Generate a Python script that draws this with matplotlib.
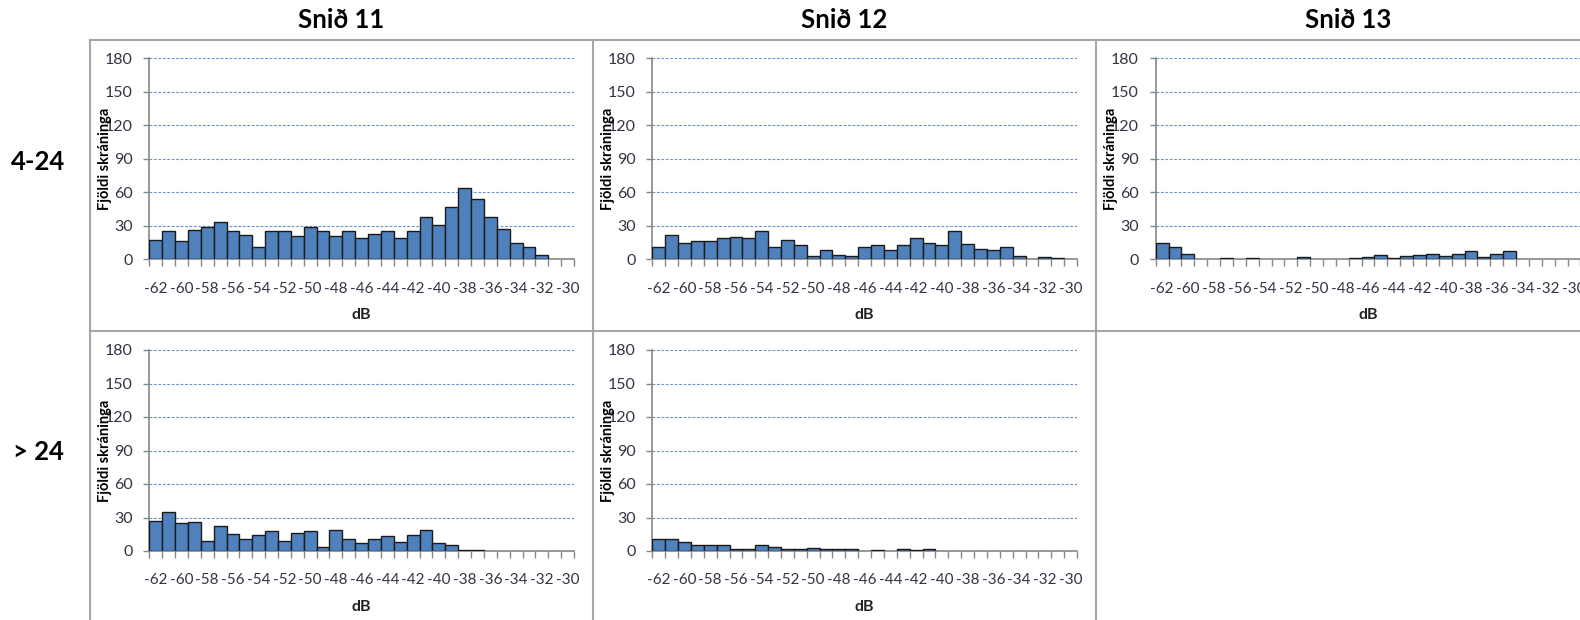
import matplotlib.pyplot as plt
from matplotlib.lines import Line2D

# dB flokkar (einn dálkur á hvert dB)
db = list(range(-62, -29))

snid11_4_24 = [17, 25, 16, 26, 29, 33, 25, 22, 11, 25, 25, 21, 29, 25, 21, 25, 19,
               23, 25, 19, 25, 38, 31, 47, 64, 54, 38, 27, 15, 11, 4, 0, 0]
snid12_4_24 = [11, 22, 15, 16, 16, 19, 20, 19, 25, 11, 17, 13, 3, 8, 4, 3, 11,
               13, 8, 13, 19, 15, 13, 25, 14, 9, 8, 11, 3, 0, 2, 1, 0]
snid13_4_24 = [15, 11, 5, 0, 0, 1, 0, 1, 0, 0, 0, 2, 0, 0, 0, 1, 2,
               4, 1, 3, 4, 5, 3, 5, 7, 2, 5, 7, 0, 0, 0, 0, 0]
snid11_gt24 = [27, 35, 25, 26, 9, 22, 15, 11, 14, 18, 9, 16, 18, 4, 19, 11, 7,
               11, 13, 8, 14, 19, 7, 5, 1, 1, 0, 0, 0, 0, 0, 0, 0]
snid12_gt24 = [11, 11, 8, 5, 5, 5, 2, 2, 5, 4, 2, 2, 3, 2, 2, 2, 0,
               1, 0, 2, 1, 2, 0, 0, 0, 0, 0, 0, 0, 0, 0, 0, 0]

col_titles = ["Snið 11", "Snið 12", "Snið 13"]
row_titles = ["4-24", "> 24"]
panels = {(0, 0): snid11_4_24, (0, 1): snid12_4_24, (0, 2): snid13_4_24,
          (1, 0): snid11_gt24, (1, 1): snid12_gt24}

yticks = [0, 30, 60, 90, 120, 150, 180]

plt.rcParams['font.family'] = ['Lato', 'DejaVu Sans']

W, H = 1580, 620
fig = plt.figure(figsize=(W / 100, H / 100), dpi=100)

col_left = [149.3, 652.3, 1155.7]
row_top = [58.3, 350.0]
ax_w, ax_h = 424.7, 201.0

BAR = "#4F81BD"
GRID = "#4F81BD"
AXC = "#868686"
TXT = "#333344"

for (r, c), vals in panels.items():
    x0 = col_left[c] / W
    y0 = 1 - (row_top[r] + ax_h) / H
    ax = fig.add_axes([x0, y0, ax_w / W, ax_h / H])
    pos = list(range(len(db)))
    edges = ["#1A1A1A" if v > 0 else "none" for v in vals]
    ax.bar(pos, vals, width=1.0, color=BAR, edgecolor=edges, linewidth=1.0, zorder=3)
    ax.set_xlim(-0.5, len(db) - 0.5)
    ax.set_ylim(0, 180)
    ax.set_yticks(yticks)
    ax.set_yticklabels([str(t) for t in yticks])
    for t in yticks[1:]:
        ax.axhline(t, color=GRID, lw=0.8, ls=(0, (2.5, 1.5)), zorder=1, alpha=0.85)
    # tick marks between categories, labels every second category
    ax.set_xticks([p - 0.5 for p in pos] + [len(db) - 0.5])
    ax.set_xticklabels([])
    ax.set_xticks(pos[::2], minor=True)
    ax.set_xticklabels([str(d) for d in db[::2]], minor=True)
    ax.tick_params(axis='x', which='major', length=5, width=1, color=AXC, direction='out')
    ax.tick_params(axis='x', which='minor', length=0, pad=16, labelsize=11, labelcolor=TXT)
    ax.tick_params(axis='y', length=4, width=1, color=AXC, pad=8, labelsize=11.5, labelcolor=TXT)
    for s in ['top', 'right']:
        ax.spines[s].set_visible(False)
    for s in ['left', 'bottom']:
        ax.spines[s].set_color(AXC)
        ax.spines[s].set_linewidth(1.2)
    ax.set_ylabel("Fjöldi skráninga", fontsize=10.5, fontweight='bold', color='black')
    ax.yaxis.set_label_coords(-0.088, 0.5)
    ax.set_xlabel("dB", fontsize=11.5, fontweight='bold', color='#222222', labelpad=9)

# column and row headers
for c, t in enumerate(col_titles):
    fig.text((col_left[c] - 59.3 + 251.5) / W, 1 - 20 / H, t, ha='center', va='center',
             fontsize=18.5, fontweight='bold')
for r, t in enumerate(row_titles):
    fig.text(38 / W, 1 - (162 + r * 290) / H, t, ha='center', va='center',
             fontsize=18.5, fontweight='bold')

# cell borders
bc = "#A6A6A6"
def hline(y, x1, x2):
    fig.add_artist(Line2D([x1 / W, x2 / W], [1 - y / H, 1 - y / H], color=bc, lw=1.5))
def vline(x, y1, y2):
    fig.add_artist(Line2D([x / W, x / W], [1 - y1 / H, 1 - y2 / H], color=bc, lw=1.5))

hline(40, 90, W)
hline(331, 90, W)
for x in [90, 593, 1096]:
    vline(x, 40, H)

fig.savefig("out.png", dpi=100)
